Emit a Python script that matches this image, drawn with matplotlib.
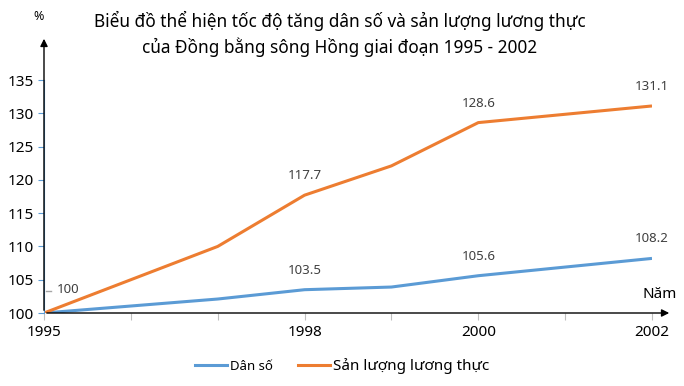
import numpy as np
import matplotlib
matplotlib.use("Agg")
import matplotlib.pyplot as plt
from matplotlib.lines import Line2D

plt.rcParams['font.family'] = ['Noto Sans', 'DejaVu Sans']

# data
years = [1995, 1997, 1998, 1999, 2000, 2002]
dan_so = [100, 102.1, 103.5, 103.9, 105.6, 108.2]
san_luong = [100, 110.0, 117.7, 122.1, 128.6, 131.1]
label_years = [1998, 2000, 2002]
title = "Biểu đồ thể hiện tốc độ tăng dân số và sản lượng lương thực\ncủa Đồng bằng sông Hồng giai đoạn 1995 - 2002"

W, H = 684, 386
blue = '#5B9BD5'
orange = '#ED7D31'
lab_col = '#404040'

fig = plt.figure(figsize=(W / 100, H / 100), dpi=100)
ax = fig.add_axes([44 / W, (H - 313) / H, (652 - 44) / W, (313 - 80) / H])

ax.plot(years, dan_so, color=blue, lw=2.2, solid_capstyle='butt')
ax.plot(years, san_luong, color=orange, lw=2.2, solid_capstyle='butt')

ax.set_xlim(1995, 2002)
ax.set_ylim(100, 135)

# data labels
for x, y in zip(years, dan_so):
    if x in label_years:
        ax.annotate(f"{y:g}", (x, y), xytext=(0, 14), textcoords='offset points',
                    ha='center', va='center', fontsize=9.5, color=lab_col)
for x, y in zip(years, san_luong):
    if x in label_years:
        ax.annotate(f"{y:g}", (x, y), xytext=(0, 14), textcoords='offset points',
                    ha='center', va='center', fontsize=9.5, color=lab_col)
ax.annotate(f"{dan_so[0]:g}", (years[0], dan_so[0]), xytext=(17, 17), textcoords='offset points',
            ha='center', va='center', fontsize=9.5, color=lab_col)
ax.plot([1995.025, 1995.08], [103.3, 103.3], color='#a6a6a6', lw=1, clip_on=False)

# axes styling
for s in ['top', 'right', 'bottom']:
    ax.spines[s].set_visible(False)
ax.spines['left'].set_color(blue)
ax.set_yticks(np.arange(100, 136, 5))
ax.tick_params(axis='y', colors=blue, length=4, labelsize=11, labelcolor='black', pad=3)
all_years = np.arange(1995, 2003)
ax.set_xticks(all_years)
ax.set_xticklabels([str(y) if y in (1995, 1998, 2000, 2002) else '' for y in all_years])
ax.tick_params(axis='x', colors='#bfbfbf', length=5, labelsize=11, labelcolor='black', pad=4)

# arrow axes
fig.patches.append(matplotlib.patches.FancyArrowPatch(
    (44 / W, 1 - 313 / H), (672 / W, 1 - 313 / H), transform=fig.transFigure,
    arrowstyle='-|>', mutation_scale=11, color='black', lw=1))
fig.patches.append(matplotlib.patches.FancyArrowPatch(
    (44 / W, 1 - 313 / H), (44 / W, 1 - 36 / H), transform=fig.transFigure,
    arrowstyle='-|>', mutation_scale=11, color='black', lw=1))

fig.text(39 / W, 1 - 17 / H, "%", fontsize=9, ha='center', va='center')
fig.text(660 / W, 1 - 295 / H, "Năm", fontsize=11, ha='center', va='center')
fig.text(340 / W, 1 - 34 / H, title, fontsize=12.4, ha='center', va='center', linespacing=1.45)

# legend
handles = [Line2D([], [], color=blue, lw=2.2), Line2D([], [], color=orange, lw=2.2)]
leg = fig.legend(handles, ["Dân số", "Sản lượng lương thực"], loc='center',
                 bbox_to_anchor=(342 / W, 1 - 366 / H), ncol=2, frameon=False,
                 handlelength=2.3, handletextpad=0.2, columnspacing=1.8)
leg.get_texts()[0].set_fontsize(9.5)
leg.get_texts()[1].set_fontsize(11)

fig.savefig("out.png", dpi=100)
